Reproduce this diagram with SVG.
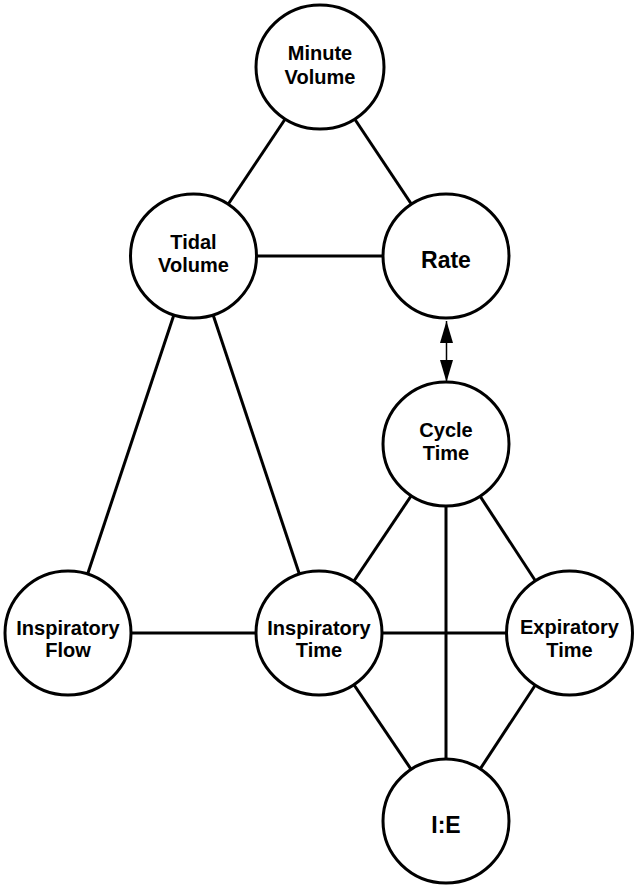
<svg xmlns="http://www.w3.org/2000/svg" width="634" height="885" viewBox="0 0 634 885">
<style>
.n{fill:#fff;stroke:#000;stroke-width:3}
.e{stroke:#000;stroke-width:3;fill:none}
.a{stroke:#000;stroke-width:1.5;fill:none}
text{font-family:"Liberation Sans",Arial,sans-serif;font-weight:bold;fill:#000;text-anchor:middle}
.t{font-size:20px}
.b{font-size:23px}
</style>
<defs>
<marker id="ah" viewBox="0 0 22 13" refX="22" refY="6.5" markerWidth="22" markerHeight="13" markerUnits="userSpaceOnUse" orient="auto-start-reverse">
<path d="M0,0 L22,6.5 L0,13 Z" fill="#000"/>
</marker>
</defs>
<g id="connectors">
<line class="e" x1="320" y1="67" x2="193.5" y2="256"/>
<line class="e" x1="320" y1="67" x2="446" y2="256"/>
<line class="e" x1="193.5" y1="256" x2="446" y2="256"/>
<line class="e" x1="193.5" y1="256" x2="68" y2="633"/>
<line class="e" x1="193.5" y1="256" x2="319" y2="633"/>
<line class="e" x1="68" y1="633" x2="319" y2="633"/>
<line class="e" x1="319" y1="633" x2="569.5" y2="633"/>
<line class="e" x1="446" y1="444" x2="319" y2="633"/>
<line class="e" x1="446" y1="444" x2="569.5" y2="633"/>
<line class="e" x1="446" y1="444" x2="446" y2="821"/>
<line class="e" x1="319" y1="633" x2="446" y2="821"/>
<line class="e" x1="569.5" y1="633" x2="446" y2="821"/>
<line class="a" x1="446.5" y1="321" x2="446.5" y2="382" marker-start="url(#ah)" marker-end="url(#ah)"/>
</g>
<g id="minute-volume"><ellipse class="n" cx="320" cy="67" rx="64" ry="62"/><text class="t" x="320" y="60">Minute</text><text class="t" x="320" y="84">Volume</text></g>
<g id="tidal-volume"><ellipse class="n" cx="193.5" cy="256" rx="63" ry="62"/><text class="t" x="193.5" y="249">Tidal</text><text class="t" x="193.5" y="272">Volume</text></g>
<g id="rate"><ellipse class="n" cx="446" cy="256" rx="63" ry="62"/><text class="b" x="446" y="268">Rate</text></g>
<g id="cycle-time"><ellipse class="n" cx="446" cy="444" rx="63" ry="62"/><text class="t" x="446" y="437">Cycle</text><text class="t" x="446" y="460">Time</text></g>
<g id="inspiratory-flow"><ellipse class="n" cx="68" cy="633" rx="63" ry="62"/><text class="t" x="68" y="635">Inspiratory</text><text class="t" x="68" y="657">Flow</text></g>
<g id="inspiratory-time"><ellipse class="n" cx="319" cy="633" rx="63" ry="62"/><text class="t" x="319" y="635">Inspiratory</text><text class="t" x="319" y="657">Time</text></g>
<g id="expiratory-time"><ellipse class="n" cx="569.5" cy="633" rx="63" ry="62"/><text class="t" x="569.5" y="634">Expiratory</text><text class="t" x="569.5" y="657">Time</text></g>
<g id="ie"><ellipse class="n" cx="446" cy="821" rx="63" ry="62"/><text class="b" x="446" y="833">I:E</text></g>
</svg>
